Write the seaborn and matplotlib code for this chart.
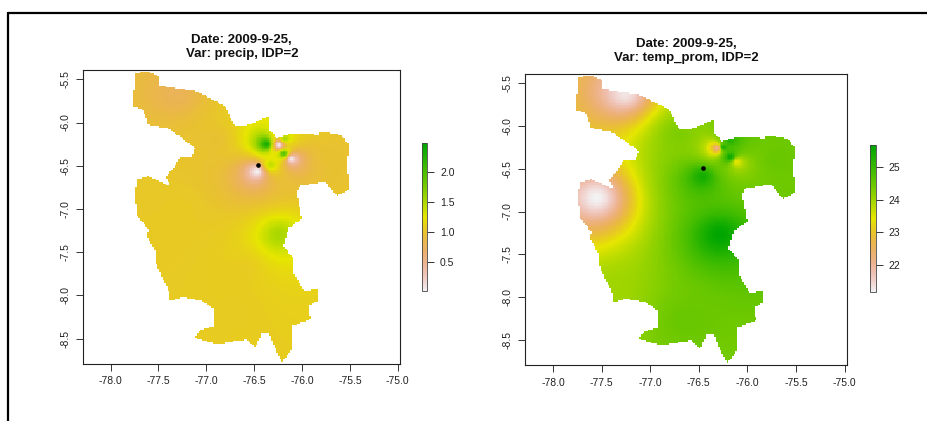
import numpy as np
import pandas as pd
import seaborn as sns
import matplotlib
matplotlib.use('Agg')
import matplotlib.pyplot as plt
from matplotlib.colors import LinearSegmentedColormap, hsv_to_rgb
from matplotlib.lines import Line2D
from matplotlib.path import Path

# outline of the region, lon / lat
outline_lon = [-77.745, -77.606, -77.491, -77.484, -77.309, -77.118, -76.926, -76.804, -76.699, -76.542,
               -76.350, -76.333, -76.263, -76.089, -75.827, -75.810, -75.600, -75.503, -75.530, -75.513,
               -75.635, -75.757, -76.036, -76.054, -76.001, -76.141, -76.193, -76.089, -76.089, -75.984,
               -75.844, -75.837, -75.932, -75.914, -76.106, -76.106, -76.211, -76.263, -76.350, -76.420,
               -76.490, -76.577, -76.891, -77.118, -77.065, -76.908, -76.908, -77.048, -77.240, -77.379,
               -77.397, -77.519, -77.526, -77.623, -77.606, -77.728, -77.745, -77.721, -77.606, -77.379,
               -77.421, -77.327, -77.275, -77.152, -77.118, -77.257, -77.397, -77.606, -77.658, -77.763]
outline_lat = [-5.431, -5.404, -5.469, -5.565, -5.604, -5.631, -5.738, -5.815, -6.046, -6.027,
               -5.931, -6.085, -6.181, -6.123, -6.142, -6.104, -6.142, -6.258, -6.431, -6.777,
               -6.854, -6.681, -6.738, -6.815, -7.123, -7.219, -7.431, -7.565, -7.738, -7.950,
               -7.931, -8.065, -8.123, -8.277, -8.354, -8.623, -8.777, -8.662, -8.431, -8.431,
               -8.604, -8.508, -8.565, -8.488, -8.400, -8.354, -8.162, -8.065, -8.019, -8.065,
               -7.931, -7.662, -7.508, -7.315, -7.238, -7.065, -6.796, -6.662, -6.623, -6.731,
               -6.623, -6.508, -6.392, -6.392, -6.296, -6.181, -6.065, -6.027, -5.854, -5.815]

# stations
precip_lon = [-77.31, -76.37, -76.24, -76.18, -76.19, -76.11, -76.47, -76.33, -76.24, -77.27, -76.68, -75.70, -77.50, -76.60, -76.90]
precip_lat = [-5.66, -6.25, -6.26, -6.19, -6.36, -6.42, -6.565, -6.49, -7.30, -7.00, -8.16, -6.43, -7.40, -7.70, -6.20]
precip_val = [0.78, 2.30, 0.02, 1.50, 1.90, 0.05, 0.02, 1.40, 1.52, 1.05, 1.07, 0.98, 1.05, 1.07, 0.98]

temp_lon = [-77.26, -77.55, -76.285, -76.46, -76.31, -76.18, -76.25, -76.11, -76.18, -75.70, -76.63, -77.38, -76.70]
temp_lat = [-5.62, -6.84, -7.27, -6.59, -6.26, -6.36, -6.25, -6.42, -6.17, -6.40, -8.27, -7.95, -6.10]
temp_val = [21.3, 21.17, 25.67, 25.4, 22.0, 25.5, 25.3, 23.4, 25.2, 24.5, 24.5, 24.0, 24.3]

mark_lon = -76.455
mark_lat = -6.49

precip_range = [0.01, 2.485]
temp_range = [21.17, 25.67]
precip_ticks = [0.5, 1.0, 1.5, 2.0]
temp_ticks = [22, 23, 24, 25]
lon_ticks = [-78.0, -77.5, -77.0, -76.5, -76.0, -75.5, -75.0]
lat_ticks = [-5.5, -6.0, -6.5, -7.0, -7.5, -8.0, -8.5]

# raster grid covers the axes exactly
lon0, lon1 = -78.285, -74.975
lat0, lat1 = -5.392, -8.788
cell = 0.018
lons = np.arange(lon0 + cell / 2, lon1, cell)
lats = np.arange(lat0 - cell / 2, lat1, -cell)


def idw(slon, slat, sval, power=2):
    xx, yy = np.meshgrid(lons, lats)
    d2 = (xx[..., None] - np.array(slon)) ** 2 + (yy[..., None] - np.array(slat)) ** 2
    w = 1 / np.maximum(d2, 1e-5) ** (power / 2)
    return (w * np.array(sval)).sum(axis=2) / w.sum(axis=2)


def terrain_r():
    # same ramp as R's terrain.colors, reversed
    t = np.linspace(0, 1, 128)
    first = np.column_stack([(4 - 2 * t) / 12, np.ones_like(t), 0.65 + 0.25 * t])
    second = np.column_stack([(2 - 2 * t) / 12, 1 - t, 0.9 + 0.05 * t])
    rgb = hsv_to_rgb(np.vstack([first, second]))
    return LinearSegmentedColormap.from_list('terrain_r', rgb[::-1])


def to_col(lon):
    return (np.asarray(lon) - lon0) / cell


def to_row(lat):
    return (lat0 - np.asarray(lat)) / cell


sns.set_style('ticks')
plt.rcParams['font.family'] = ['Liberation Sans', 'DejaVu Sans']
cmap = terrain_r()

xx, yy = np.meshgrid(lons, lats)
inside = Path(np.column_stack([outline_lon, outline_lat])).contains_points(
    np.column_stack([xx.ravel(), yy.ravel()])).reshape(xx.shape)

W, H = 928, 421
fig = plt.figure(figsize=(W / 100, H / 100), dpi=100)


def panel(box, cbox, field, vrange, cticks, title):
    ax = fig.add_axes([box[0] / W, 1 - box[3] / H, (box[2] - box[0]) / W, (box[3] - box[1]) / H])
    cax = fig.add_axes([cbox[0] / W, 1 - cbox[3] / H, (cbox[2] - cbox[0]) / W, (cbox[3] - cbox[1]) / H])
    df = pd.DataFrame(field, index=lats, columns=lons)
    sns.heatmap(df, mask=~inside, cmap=cmap, vmin=vrange[0], vmax=vrange[1], ax=ax, cbar_ax=cax,
                xticklabels=False, yticklabels=False, rasterized=True)
    sns.scatterplot(x=[to_col(mark_lon)], y=[to_row(mark_lat)], color='black', s=11, linewidth=0, ax=ax, zorder=5)
    ax.set_xlim(0, len(lons))
    ax.set_ylim(len(lats), 0)
    ax.set_xticks(to_col(lon_ticks))
    ax.set_xticklabels(['%.1f' % v for v in lon_ticks], fontsize=7.5, color='#222222')
    ax.set_yticks(to_row(lat_ticks))
    ax.set_yticklabels(['%.1f' % v for v in lat_ticks], fontsize=7.5, color='#222222', rotation=90, va='center')
    ax.tick_params(length=5, width=0.7, pad=4, color='#333333', bottom=True, left=True)
    for s in ax.spines.values():
        s.set_visible(True)
        s.set_linewidth(0.8)
        s.set_color('#222222')
    ax.set_xlabel('')
    ax.set_ylabel('')
    ax.set_title(title, fontsize=9.5, fontweight='bold', pad=9, color='#111111', linespacing=1.25)
    cb = ax.collections[0].colorbar
    cb.set_ticks(cticks)
    cb.ax.tick_params(length=5, width=0.7, pad=4, labelsize=7.5, color='#333333', labelcolor='#222222')
    cb.outline.set_visible(True)
    cb.outline.set_linewidth(0.6)
    cb.outline.set_edgecolor('#444444')
    return ax


panel((83.3, 70, 400.3, 364), (421.7, 143.3, 427.5, 291.3), idw(precip_lon, precip_lat, precip_val),
      precip_range, precip_ticks, 'Date: 2009-9-25,\nVar: precip, IDP=2')
panel((525.3, 74, 847.3, 365), (869.7, 145, 876, 292), idw(temp_lon, temp_lat, temp_val),
      temp_range, temp_ticks, 'Date: 2009-9-25,\nVar: temp_prom, IDP=2')

# frame of the screenshot, top and left only
fig.add_artist(Line2D([8 / W, 1], [1 - 13 / H, 1 - 13 / H], color='black', lw=1.6))
fig.add_artist(Line2D([8 / W, 8 / W], [0, 1 - 13 / H], color='black', lw=1.6))

fig.savefig('out.png', dpi=100)
